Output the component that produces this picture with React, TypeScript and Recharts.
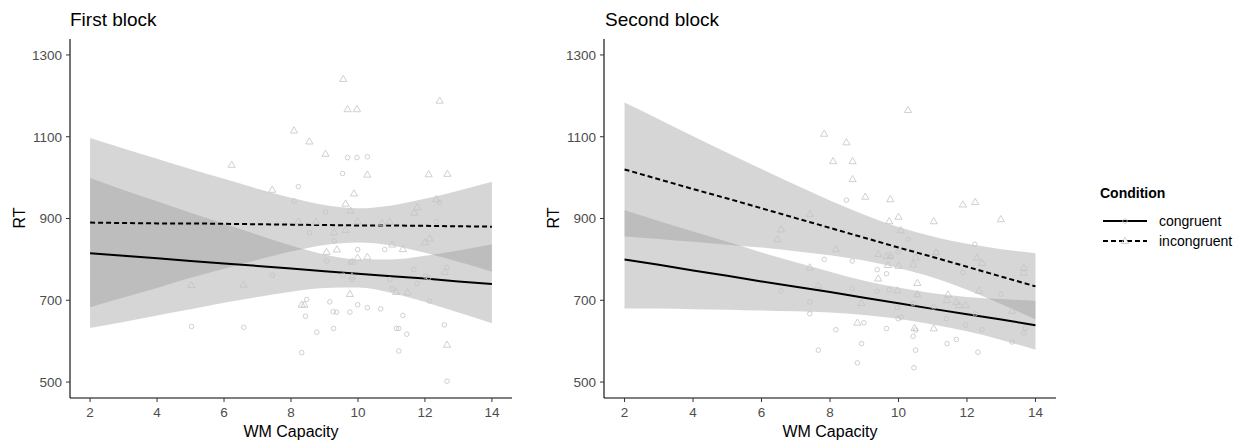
import {
  Area,
  ComposedChart,
  Line,
  Scatter,
  XAxis,
  YAxis,
} from "recharts";

const FONT = "'Liberation Sans', Arial, sans-serif";

// x grid for fitted lines and confidence bands
const gridX = [2, 3, 4, 5, 6, 7, 8, 9, 10, 11, 12, 13, 14];

// first block
const b1ConFit = [815, 809, 803, 796, 790, 784, 778, 771, 765, 759, 753, 746, 740];
const b1ConLo = [632, 647, 663, 678, 694, 708, 721, 730, 731, 718, 696, 670, 644];
const b1ConHi = [999, 970, 942, 914, 887, 860, 834, 812, 800, 800, 809, 822, 837];
const b1IncFit = [890, 889, 888, 888, 887, 886, 885, 884, 883, 883, 882, 881, 880];
const b1IncLo = [683, 707, 730, 755, 777, 799, 819, 835, 841, 834, 816, 794, 770];
const b1IncHi = [1097, 1071, 1046, 1021, 997, 973, 951, 933, 925, 932, 948, 968, 990];

// second block
const b2ConFit = [800, 787, 773, 760, 746, 733, 720, 706, 693, 679, 666, 653, 639];
const b2ConLo = [680, 680, 678, 677, 675, 673, 670, 664, 655, 641, 624, 603, 579];
const b2ConHi = [920, 894, 868, 843, 817, 793, 770, 748, 731, 717, 708, 703, 699];
const b2IncFit = [1020, 996, 972, 949, 925, 901, 877, 853, 829, 806, 782, 758, 734];
const b2IncLo = [856, 850, 843, 836, 829, 820, 810, 797, 779, 756, 726, 691, 653];
const b2IncHi = [1184, 1143, 1101, 1061, 1021, 982, 944, 909, 879, 856, 838, 825, 815];

// raw observations [wm capacity, RT]
const b1Con: [number, number][] = [
  [9.69, 1049], [9.97, 1049], [10.28, 1051], [9.54, 1010], [8.22, 978],
  [8.09, 943], [9.03, 916], [12.44, 939], [12.34, 892], [8.55, 865],
  [6.21, 875], [9.29, 845], [9.99, 824], [10.8, 824], [9.06, 796],
  [9.78, 794], [7.44, 761], [9.82, 751], [10.95, 751], [11.67, 775],
  [12.02, 759], [12.11, 755], [12.66, 780], [11.76, 741], [11.02, 729],
  [9.56, 761], [8.47, 702], [9.16, 696], [12.14, 698], [9.99, 689],
  [10.28, 682], [10.68, 679], [9.76, 671], [9.26, 672], [9.36, 671],
  [8.43, 661], [11.34, 663], [5.03, 636], [6.59, 634], [9.27, 631],
  [11.15, 631], [11.22, 631], [8.77, 622], [11.46, 617], [12.58, 640],
  [8.32, 572], [11.22, 576], [12.66, 502],
];
const b1Inc: [number, number][] = [
  [9.56, 1241], [9.69, 1167], [9.97, 1167], [12.44, 1188], [8.09, 1115],
  [8.55, 1088], [9.03, 1058], [6.23, 1031], [10.28, 1007], [12.11, 1008],
  [12.67, 1009], [7.44, 970], [9.88, 961], [9.63, 936], [9.78, 919],
  [12.34, 947], [11.77, 927], [11.68, 914], [9.99, 893], [10.95, 892],
  [8.22, 893], [8.75, 892], [10.72, 889], [9.29, 866], [9.63, 872],
  [9.37, 824], [9.06, 818], [11.02, 836], [11.34, 825], [12.14, 851],
  [12.0, 841], [9.99, 804], [10.28, 806], [9.83, 794], [12.59, 769],
  [9.76, 715], [11.14, 720], [11.48, 719], [5.02, 737], [6.58, 738],
  [8.4, 689], [8.32, 689], [12.66, 591], [9.82, 758],
];
const b2Con: [number, number][] = [
  [8.48, 945], [10.28, 849], [12.23, 837], [7.83, 800], [8.65, 796],
  [11.11, 817], [9.99, 818], [9.79, 806], [9.38, 775], [9.65, 765],
  [11.88, 768], [6.57, 723], [8.65, 729], [9.38, 722], [9.73, 726],
  [12.99, 715], [10.55, 713], [7.41, 696], [7.41, 667], [10.43, 692],
  [9.97, 682], [11.03, 684], [9.99, 655], [10.08, 658], [8.99, 645],
  [11.4, 655], [12.24, 667], [13.71, 632], [13.66, 620], [8.17, 628],
  [9.65, 631], [12.44, 628], [10.5, 627], [11.96, 639], [10.43, 612],
  [8.92, 594], [11.42, 594], [11.69, 604], [13.32, 598], [7.66, 578],
  [10.5, 578], [12.32, 573], [8.8, 547], [10.45, 535],
];
const b2Inc: [number, number][] = [
  [10.28, 1165], [7.83, 1107], [8.48, 1086], [8.09, 1040], [8.66, 1040],
  [8.66, 996], [9.03, 953], [9.76, 947], [11.88, 934], [12.24, 940],
  [12.99, 898], [9.73, 893], [10.0, 904], [11.03, 893], [7.41, 911],
  [6.57, 873], [6.47, 849], [10.07, 871], [8.17, 825], [9.41, 813],
  [9.65, 808], [9.76, 810], [11.09, 817], [12.29, 804], [12.44, 791],
  [10.5, 804], [10.43, 787], [10.0, 784], [9.69, 786], [7.41, 780],
  [13.66, 779], [13.66, 767], [9.41, 753], [10.55, 742], [7.66, 736],
  [9.97, 724], [12.35, 723], [10.55, 715], [11.45, 714], [11.41, 700],
  [11.69, 696], [11.77, 688], [11.96, 688], [8.92, 693], [13.32, 674],
  [8.8, 645], [10.47, 632], [11.03, 631],
];

const xTicks = [2, 4, 6, 8, 10, 12, 14];
const yTicks = [500, 700, 900, 1100, 1300];

const POINT = "#c4c4c4";

function CircleDot(p: any) {
  return <circle cx={p.cx} cy={p.cy} r={2.3} fill="none" stroke={POINT} strokeWidth={0.8} />;
}

function TriDot(p: any) {
  const { cx, cy } = p;
  return (
    <polygon
      points={`${cx},${cy - 3.8} ${cx - 3.6},${cy + 2.4} ${cx + 3.6},${cy + 2.4}`}
      fill="none"
      stroke={POINT}
      strokeWidth={0.8}
    />
  );
}

function buildRows(
  conFit: number[], conLo: number[], conHi: number[],
  incFit: number[], incLo: number[], incHi: number[],
) {
  return gridX.map((x, i) => ({
    x,
    conFit: conFit[i],
    conBand: [conLo[i], conHi[i]],
    incFit: incFit[i],
    incBand: [incLo[i], incHi[i]],
  }));
}

const toPts = (arr: [number, number][]) => arr.map(([x, y]) => ({ x, y }));

function Panel({
  rows,
  con,
  inc,
  width,
}: {
  rows: any[];
  con: [number, number][];
  inc: [number, number][];
  width: number;
}) {
  const tick = { fontSize: 13.5, fill: "#4d4d4d", fontFamily: FONT };
  return (
    <ComposedChart
      width={width}
      height={443}
      data={rows}
      margin={{ top: 39, right: 28, bottom: 15, left: 10 }}
    >
      <XAxis
        type="number"
        dataKey="x"
        domain={[1.4, 14.6]}
        allowDataOverflow
        ticks={xTicks}
        height={30}
        tick={tick}
        tickSize={4}
        tickMargin={5}
        tickLine={{ stroke: "#333333" }}
        axisLine={{ stroke: "#000000", strokeWidth: 1.1 }}
      />
      <YAxis
        type="number"
        domain={[461, 1339]}
        allowDataOverflow
        ticks={yTicks}
        width={60}
        tick={tick}
        tickSize={4}
        tickMargin={4}
        tickLine={{ stroke: "#333333" }}
        axisLine={{ stroke: "#000000", strokeWidth: 1.1 }}
      />
      <Scatter data={toPts(con)} dataKey="y" shape={CircleDot} isAnimationActive={false} />
      <Scatter data={toPts(inc)} dataKey="y" shape={TriDot} isAnimationActive={false} />
      <Area
        dataKey="conBand"
        type="monotone"
        stroke="none"
        fill="#999999"
        fillOpacity={0.4}
        isAnimationActive={false}
      />
      <Line
        dataKey="conFit"
        type="linear"
        stroke="#000000"
        strokeWidth={2}
        dot={false}
        isAnimationActive={false}
      />
      <Area
        dataKey="incBand"
        type="monotone"
        stroke="none"
        fill="#999999"
        fillOpacity={0.4}
        isAnimationActive={false}
      />
      <Line
        dataKey="incFit"
        type="linear"
        stroke="#000000"
        strokeWidth={2}
        strokeDasharray="5 3"
        dot={false}
        isAnimationActive={false}
      />
    </ComposedChart>
  );
}

const rows1 = buildRows(b1ConFit, b1ConLo, b1ConHi, b1IncFit, b1IncLo, b1IncHi);
const rows2 = buildRows(b2ConFit, b2ConLo, b2ConHi, b2IncFit, b2IncLo, b2IncHi);

export default function App() {
  return (
    <div
      style={{
        position: "absolute",
        left: 0,
        top: 0,
        width: 1249,
        height: 443,
        background: "#ffffff",
        fontFamily: FONT,
      }}
    >
      <div style={{ position: "absolute", left: 0, top: 0 }}>
        <Panel rows={rows1} con={b1Con} inc={b1Inc} width={540} />
      </div>
      <div style={{ position: "absolute", left: 534, top: 0 }}>
        <Panel rows={rows2} con={b2Con} inc={b2Inc} width={550} />
      </div>
      <svg
        width={1249}
        height={443}
        style={{ position: "absolute", left: 0, top: 0, pointerEvents: "none" }}
        fontFamily={FONT}
      >
        <text x={70} y={26} fontSize={19} fill="#000">First block</text>
        <text x={605} y={26} fontSize={19} fill="#000">Second block</text>
        <text x={291} y={437} fontSize={16} textAnchor="middle" fill="#000">WM Capacity</text>
        <text x={830} y={437} fontSize={16} textAnchor="middle" fill="#000">WM Capacity</text>
        <text x={25} y={218} fontSize={16} textAnchor="middle" transform="rotate(-90 25 218)" fill="#000">RT</text>
        <text x={559} y={218} fontSize={16} textAnchor="middle" transform="rotate(-90 559 218)" fill="#000">RT</text>

        <text x={1100} y={198} fontSize={14} fontWeight="bold" fill="#000">Condition</text>
        <line x1={1103} y1={221} x2={1147} y2={221} stroke="#000" strokeWidth={2} />
        <circle cx={1125} cy={221} r={2.3} fill="none" stroke={POINT} strokeWidth={0.8} />
        <text x={1159} y={226} fontSize={14} fill="#000">congruent</text>
        <line x1={1103} y1={241} x2={1147} y2={241} stroke="#000" strokeWidth={2} strokeDasharray="5 3" />
        <polygon points="1125,237.2 1121.4,243.4 1128.6,243.4" fill="none" stroke={POINT} strokeWidth={0.8} />
        <text x={1159} y={246} fontSize={14} fill="#000">incongruent</text>
      </svg>
    </div>
  );
}
